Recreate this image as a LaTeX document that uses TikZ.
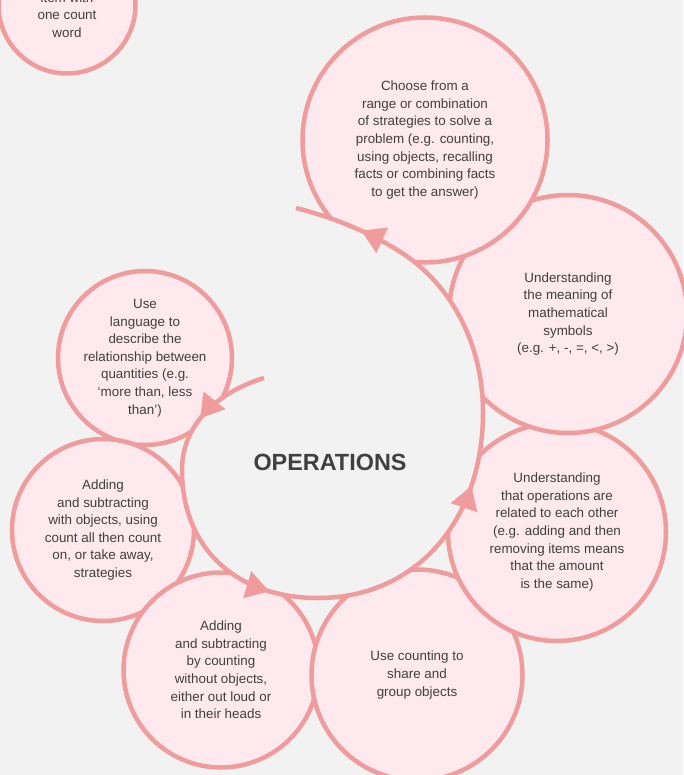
\documentclass[tikz,border=0pt]{standalone}
\usepackage{fontspec}
\setmainfont{Liberation Sans}
\usetikzlibrary{arrows.meta}
\usetikzlibrary{decorations.markings}
\definecolor{paper}{HTML}{F2F2F2}
\definecolor{rim}{HTML}{F19C9C}
\definecolor{blush}{HTML}{FDE9EE}
\definecolor{ink}{HTML}{404040}
\tikzset{
  bubble/.style={circle, draw=rim, fill=blush, line width=4.5pt, inner sep=0pt,
    align=center, text=ink, font=\fontsize{13.4}{17.6}\selectfont},
  blurb/.style={align=center, text=ink, inner sep=0pt, font=\fontsize{13.4}{17.6}\selectfont},
  loopline/.style={draw=rim, line width=4.5pt},
  loophead/.tip={Triangle[length=23pt,width=27pt]}
}

\begin{document}
\begin{tikzpicture}[x=1pt,y=-1pt]
\fill[paper] (0,0) rectangle (683,775);
\useasboundingbox (0,0) rectangle (683,775);

\node[bubble, minimum size=137pt] (count) at (67,5) {};
\node[blurb] (countText) at (67,15) {item with\\one count\\word};

\node[bubble, minimum size=174pt] (language) at (145,358) {Use\\language to\\describe the\\relationship between\\quantities (e.g.\\‘more than, less\\than’)};
\node[bubble, minimum size=182pt] (withObj) at (103,530) {Adding\\and subtracting\\with objects, using\\count all then count\\on, or take away,\\strategies};
\node[bubble, minimum size=195pt] (noObj) at (221,670) {Adding\\and subtracting\\by counting\\without objects,\\either out loud or\\in their heads};
\node[bubble, minimum size=211pt] (share) at (417,675) {Use counting to\\share and\\group objects};
\node[bubble, minimum size=218pt] (related) at (557,532) {Understanding\\that operations are\\related to each other\\(e.g. adding and then\\removing items means\\that the amount\\is the same)};
\node[bubble, minimum size=238pt] (symbols) at (568,314) {Understanding\\the meaning of\\mathematical\\symbols\\(e.g. +, -, =, <, >)};
\node[bubble, minimum size=245pt] (choose) at (425,140) {Choose from a\\range or combination\\of strategies to solve a\\problem (e.g. counting,\\using objects, recalling\\facts or combining facts\\to get the answer)};

\coordinate (loopStart) at (264,378);
\coordinate (loopLeft) at (182,470);
\coordinate (loopBottom) at (318,598);
\coordinate (loopRight) at (483,412);
\coordinate (loopTop) at (405,255);
\coordinate (loopEnd) at (296,208);
\draw[loopline, fill=paper, postaction={decorate}, decoration={markings,
    mark=at position 0.083 with {\arrow{loophead}},
    mark=at position 0.318 with {\arrow{loophead}},
    mark=at position 0.592 with {\arrow{loophead}},
    mark=at position 0.925 with {\arrow{loophead}}}]
  (loopStart) .. controls (218,392) and (182,424) .. (loopLeft)
  .. controls (182,548) and (236,598) .. (loopBottom)
  .. controls (415,598) and (483,522) .. (loopRight)
  .. controls (483,350) and (456,290) .. (loopTop)
  .. controls (372,233) and (335,218) .. (loopEnd);

\node[text=ink, font=\bfseries\fontsize{23.4}{27}\selectfont] (ops) at (330,462) {OPERATIONS};
\end{tikzpicture}
\end{document}
